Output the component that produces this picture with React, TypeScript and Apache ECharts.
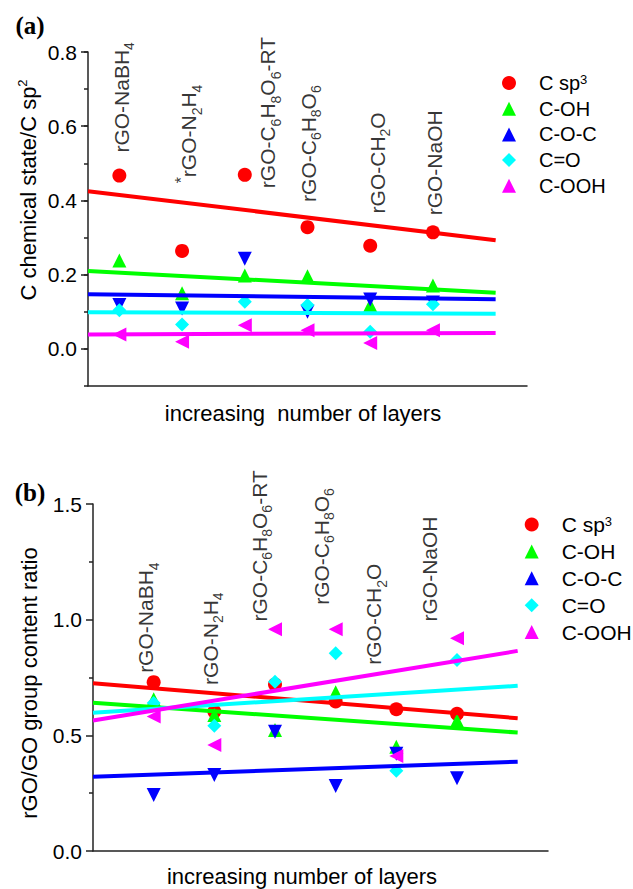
import React, { useEffect, useRef } from 'react';
import * as echarts from 'echarts';

const FONT = '"Liberation Sans", Arial, sans-serif';

const seriesNames = ['C sp3', 'C-OH', 'C-O-C', 'C=O', 'C-OOH'];
const seriesColors = ['#ff0000', '#00ff00', '#0000ff', '#00ffff', '#ff00ff'];
const seriesSymbols = ['circle', 'triangle', 'triangle', 'diamond', 'triangle'];
const seriesRotations = [0, 0, 180, 0, 90];

const sampleX = [1, 2, 3, 4, 5, 6];

// Panel (a): C chemical state / C sp2
const aCsp3 = [0.467, 0.264, 0.469, 0.328, 0.278, 0.314];
const aCOH = [0.238, 0.150, 0.198, 0.196, 0.118, 0.171];
const aCOC = [0.118, 0.109, 0.243, 0.100, 0.133, 0.125];
const aCO = [0.104, 0.066, 0.127, 0.118, 0.046, 0.120];
const aCOOH = [0.039, 0.019, 0.064, 0.050, 0.016, 0.050];

const aFitX = [0.5, 7];
const aFitCsp3 = [0.425, 0.293];
const aFitCOH = [0.210, 0.151];
const aFitCOC = [0.147, 0.134];
const aFitCO = [0.099, 0.095];
const aFitCOOH = [0.039, 0.043];

// Panel (b): rGO/GO group content ratio
const bCsp3 = [0.730, 0.603, 0.720, 0.646, 0.613, 0.593];
const bCOH = [0.656, 0.588, 0.523, 0.686, 0.451, 0.564];
const bCOC = [0.242, 0.329, 0.516, 0.281, 0.420, 0.314];
const bCO = [0.640, 0.541, 0.732, 0.855, 0.347, 0.826];
const bCOOH = [0.581, 0.458, 0.959, 0.959, 0.411, 0.920];

const bFitX = [0, 7];
const bFitCsp3 = [0.725, 0.574];
const bFitCOH = [0.641, 0.512];
const bFitCOC = [0.321, 0.386];
const bFitCO = [0.598, 0.714];
const bFitCOOH = [0.564, 0.865];

// Sample annotations (rich text, rotated)
const aLabelTexts = [
  'rGO-NaBH{s|4}',
  '{p|*}rGO-N{s|2}H{s|4}',
  'rGO-C{s|6}H{s|8}O{s|6}-RT',
  'rGO-C{s|6}H{s|8}O{s|6}',
  'rGO-CH{s|2}O',
  'rGO-NaOH',
];
const aLabelX = [1.03, 2.11, 3.37, 4.01, 5.11, 6.02];
const aLabelY = [0.529, 0.446, 0.433, 0.396, 0.365, 0.36];

const bLabelTexts = [
  'rGO-NaBH{s|4}',
  'rGO-N{s|2}H{s|4}',
  'rGO-C{s|6}H{s|8}O{s|6}-RT',
  'rGO-C{s|6}H{s|8}O{s|6}',
  'rGO-CH{s|2}O',
  'rGO-NaOH',
];
const bLabelX = [0.87, 1.93, 2.74, 3.76, 4.63, 5.55];
const bLabelY = [0.77, 0.718, 0.992, 1.064, 0.805, 0.992];

const aTickLabels = ['0.0', '0.2', '0.4', '0.6', '0.8'];
const bTickLabels = ['0.0', '0.5', '1.0', '1.5'];

const AXIS_COLOR = '#222';

function App() {
  const ref = useRef<HTMLDivElement>(null);

  useEffect(() => {
    if (!ref.current) return;
    const chart = echarts.init(ref.current, undefined, { renderer: 'svg' });

    const aPoints = [aCsp3, aCOH, aCOC, aCO, aCOOH];
    const bPoints = [bCsp3, bCOH, bCOC, bCO, bCOOH];
    const aFits = [aFitCsp3, aFitCOH, aFitCOC, aFitCO, aFitCOOH];
    const bFits = [bFitCsp3, bFitCOH, bFitCOC, bFitCO, bFitCOOH];

    const scatter = (pts: number[], i: number, axis: number) => ({
      type: 'scatter',
      name: seriesNames[i],
      xAxisIndex: axis,
      yAxisIndex: axis,
      symbol: seriesSymbols[i],
      symbolRotate: seriesRotations[i],
      symbolSize: 14,
      itemStyle: { color: seriesColors[i], opacity: 1 },
      data: sampleX.map((x, k) => [x, pts[k]]),
      z: 2,
    });
    const fit = (fx: number[], fy: number[], i: number, axis: number) => ({
      type: 'line',
      name: 'fit ' + seriesNames[i],
      xAxisIndex: axis,
      yAxisIndex: axis,
      symbol: 'none',
      lineStyle: { color: seriesColors[i], width: 4 },
      data: fx.map((x, k) => [x, fy[k]]),
      z: 3,
    });

    const labelRich = {
      s: { fontSize: 14, fontFamily: FONT, color: '#000', verticalAlign: 'bottom', lineHeight: 14 },
      p: { fontSize: 16, fontFamily: FONT, color: '#000', verticalAlign: 'top', lineHeight: 16 },
    };
    const labelSeries = (xs: number[], ys: number[], texts: string[], axis: number) => ({
      type: 'scatter',
      name: 'labels' + axis,
      xAxisIndex: axis,
      yAxisIndex: axis,
      symbolSize: 1,
      silent: true,
      itemStyle: { color: 'rgba(0,0,0,0)' },
      data: xs.map((x, k) => [x, ys[k], texts[k]]),
      label: {
        show: true,
        position: 'inside',
        rotate: 90,
        align: 'left',
        verticalAlign: 'middle',
        fontSize: 21,
        fontFamily: FONT,
        color: '#000',
        lineHeight: 30,
        formatter: (p: any) => p.data[2],
        rich: labelRich,
      },
      z: 5,
    });

    const supRich = {
      sup: { fontSize: 13, fontFamily: FONT, color: '#000', verticalAlign: 'top', lineHeight: 13 },
    };

    const hiddenAxisCommon = {
      axisLine: { show: true, onZero: false, lineStyle: { color: AXIS_COLOR, width: 1.5 } },
      axisTick: { show: false },
      axisLabel: { show: false },
      splitLine: { show: false },
    };

    const option: any = {
      animation: false,
      backgroundColor: '#fff',
      textStyle: { fontFamily: FONT },
      grid: [
        { left: 88, top: 52, width: 439, height: 334 },
        { left: 93, top: 504, width: 455, height: 347 },
        { left: 88, top: 52, width: 439, height: 334 * 8 / 9 },
      ],
      xAxis: [
        { gridIndex: 0, type: 'value', min: 0.5, max: 7.5, ...hiddenAxisCommon },
        { gridIndex: 1, type: 'value', min: 0, max: 7.5, ...hiddenAxisCommon },
        { gridIndex: 2, type: 'value', min: 0, max: 1, show: false },
      ],
      yAxis: [
        {
          gridIndex: 0, type: 'value', min: -0.1, max: 0.8, interval: 0.1,
          axisLine: { show: true, onZero: false, lineStyle: { color: AXIS_COLOR, width: 1.5 } },
          axisTick: { show: true, length: 4, lineStyle: { color: AXIS_COLOR, width: 1.5 } },
          axisLabel: { show: false },
          splitLine: { show: false },
        },
        {
          gridIndex: 1, type: 'value', min: 0, max: 1.5, interval: 0.5,
          axisLine: { show: true, onZero: false, lineStyle: { color: AXIS_COLOR, width: 1.5 } },
          axisTick: { show: true, length: 7, lineStyle: { color: AXIS_COLOR, width: 1.5 } },
          minorTick: { show: true, splitNumber: 2, length: 4, lineStyle: { color: AXIS_COLOR, width: 1.5 } },
          axisLabel: {
            show: true, fontSize: 21, fontFamily: FONT, color: '#000', margin: 11,
            formatter: (v: number) => bTickLabels[Math.round(v / 0.5)] ?? '',
          },
          splitLine: { show: false },
        },
        {
          gridIndex: 2, type: 'value', min: 0, max: 0.8, interval: 0.2,
          axisLine: { show: false, onZero: false },
          axisTick: { show: true, length: 7, lineStyle: { color: AXIS_COLOR, width: 1.5 } },
          axisLabel: {
            show: true, fontSize: 21, fontFamily: FONT, color: '#000', margin: 11,
            formatter: (v: number) => aTickLabels[Math.round(v / 0.2)] ?? '',
          },
          splitLine: { show: false },
        },
      ],
      legend: [
        {
          data: seriesNames,
          orient: 'vertical',
          left: 497,
          top: 68,
          itemWidth: 14,
          itemHeight: 14,
          itemGap: 5.7,
          selectedMode: false,
          textStyle: {
            fontSize: 20, fontFamily: FONT, color: '#000', lineHeight: 20,
            padding: [0, 0, 0, 18], rich: supRich,
          },
          formatter: (n: string) => (n === 'C sp3' ? 'C sp{sup|3}' : n),
        },
        {
          data: seriesNames,
          orient: 'vertical',
          left: 519.7,
          top: 509,
          itemWidth: 14,
          itemHeight: 14,
          itemGap: 5.9,
          selectedMode: false,
          textStyle: {
            fontSize: 21, fontFamily: FONT, color: '#000', lineHeight: 20,
            padding: [0, 0, 0, 18], rich: supRich,
          },
          formatter: (n: string) => (n === 'C sp3' ? 'C sp{sup|3}' : n),
        },
      ],
      series: [
        ...aPoints.map((p, i) => scatter(p, i, 0)),
        ...bPoints.map((p, i) => scatter(p, i, 1)),
        ...aFits.map((f, i) => fit(aFitX, f, i, 0)),
        ...bFits.map((f, i) => fit(bFitX, f, i, 1)),
        labelSeries(aLabelX, aLabelY, aLabelTexts, 0),
        labelSeries(bLabelX, bLabelY, bLabelTexts, 1),
      ],
      graphic: [
        {
          type: 'text', x: 30, y: 25,
          style: {
            text: '(a)', font: 'bold 25px "Liberation Serif", "Times New Roman", serif', fill: '#000',
            align: 'center', verticalAlign: 'middle', textAlign: 'center', textVerticalAlign: 'middle',
          },
        },
        {
          type: 'text', x: 30, y: 492,
          style: {
            text: '(b)', font: 'bold 25px "Liberation Serif", "Times New Roman", serif', fill: '#000',
            align: 'center', verticalAlign: 'middle', textAlign: 'center', textVerticalAlign: 'middle',
          },
        },
        {
          type: 'text', x: 28, y: 190, rotation: Math.PI / 2,
          style: {
            text: 'C chemical state/C sp{sup|2}', font: '22px ' + FONT, fill: '#000', lineHeight: 24,
            rich: supRich,
            align: 'center', verticalAlign: 'middle', textAlign: 'center', textVerticalAlign: 'middle',
          },
        },
        {
          type: 'text', x: 303, y: 413,
          style: {
            text: 'increasing  number of layers', font: '22px ' + FONT, fill: '#000',
            align: 'center', verticalAlign: 'middle', textAlign: 'center', textVerticalAlign: 'middle',
          },
        },
        {
          type: 'text', x: 29, y: 683, rotation: Math.PI / 2,
          style: {
            text: 'rGO/GO group content ratio', font: '22px ' + FONT, fill: '#000',
            align: 'center', verticalAlign: 'middle', textAlign: 'center', textVerticalAlign: 'middle',
          },
        },
        {
          type: 'text', x: 302, y: 876,
          style: {
            text: 'increasing number of layers', font: '22px ' + FONT, fill: '#000',
            align: 'center', verticalAlign: 'middle', textAlign: 'center', textVerticalAlign: 'middle',
          },
        },
      ],
    };

    chart.setOption(option);
    return () => chart.dispose();
  }, []);

  return (
    <div
      ref={ref}
      style={{ position: 'absolute', left: 0, top: 0, width: 633, height: 889, background: '#fff' }}
    />
  );
}

export default App;
